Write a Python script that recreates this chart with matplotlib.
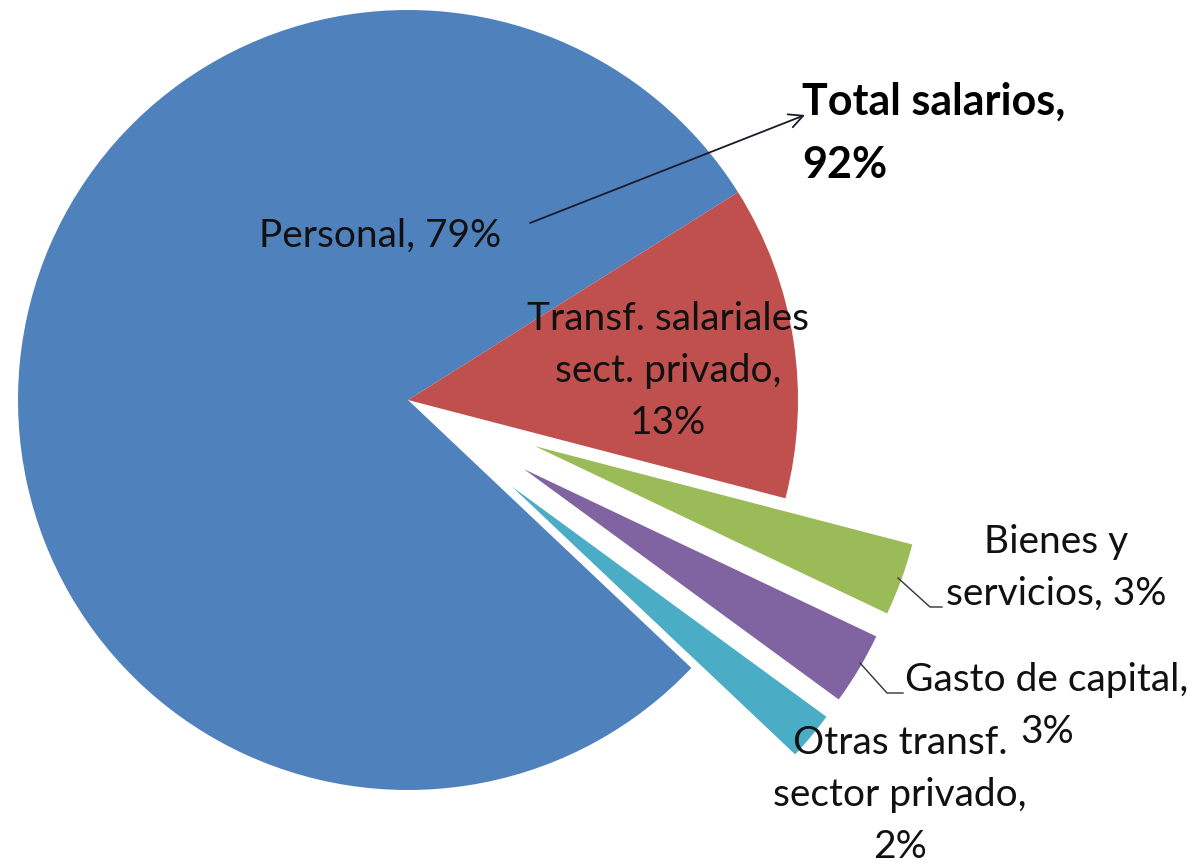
import matplotlib
matplotlib.use("Agg")
import matplotlib.pyplot as plt

# Data
categories = ["Personal", "Otras transf. sector privado", "Gasto de capital",
              "Bienes y servicios", "Transf. salariales sect. privado"]
values = [79, 2, 3, 3, 13]
colors = ["#4F81BD", "#4BACC6", "#8064A2", "#9BBB59", "#C0504D"]
label_texts = ["Personal, 79%", "Otras transf.\nsector privado,\n2%",
               "Gasto de capital,\n3%", "Bienes y\nservicios, 3%",
               "Transf. salariales\nsect. privado,\n13%"]
total_label = "Total salarios,\n92%"

W, H = 1203, 865
plt.rcParams['font.family'] = ['Lato', 'DejaVu Sans']

fig = plt.figure(figsize=(W / 100, H / 100), dpi=100)
ax = fig.add_axes([0, 0, 1, 1])

def Y(y):
    return H - y

explode = [0, 135, 135, 135, 0]
ax.pie(values, colors=colors, startangle=32.2, counterclock=True,
       explode=explode, radius=390, center=(408, Y(400)),
       wedgeprops=dict(linewidth=0))
ax.set_xlim(0, W)
ax.set_ylim(0, H)
ax.set_aspect('equal')
ax.axis('off')

fs = 28
pitch = 52
# label positions (pixel coords of text-block centres)
pos = {
    0: (380, 236),
    1: (900, 795),
    2: (1047, 706),
    3: (1056, 568),
    4: (668, 371),
}
for i, (x, y) in pos.items():
    lines = label_texts[i].split('\n')
    n = len(lines)
    for k, line in enumerate(lines):
        yy = y + (k - (n - 1) / 2) * pitch
        ax.text(x, Y(yy), line, ha='center', va='center', fontsize=fs,
                color='#111111')

# leader lines
ax.plot([898, 930, 942], [Y(578), Y(607), Y(607)], color='#333333', lw=1)
ax.plot([860, 887, 903], [Y(663), Y(693), Y(693)], color='#333333', lw=1)

# Total annotation
ax.text(802, Y(133), total_label, ha='left', va='center', fontsize=31,
        fontweight='bold', color='black', linespacing=1.7)
ax.annotate('', xy=(805, Y(115)), xytext=(530, Y(223)),
            arrowprops=dict(arrowstyle='->', color='#1a1a2e', lw=1.3,
                            mutation_scale=25, shrinkA=0, shrinkB=0))

fig.savefig('out.png', dpi=100)
